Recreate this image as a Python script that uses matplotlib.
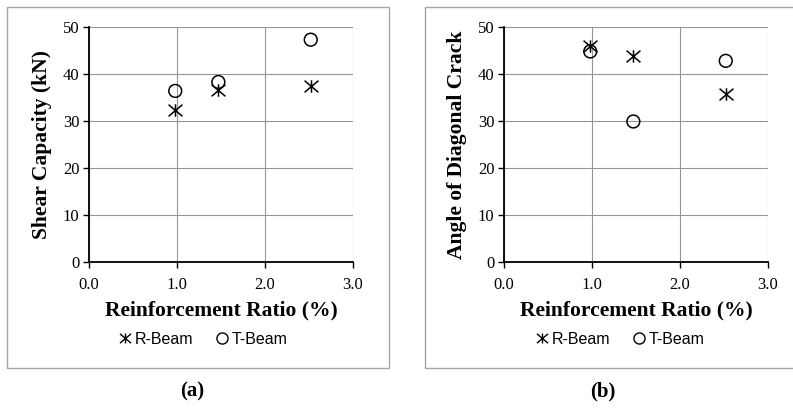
import matplotlib.pyplot as plt
from matplotlib.patches import Rectangle
from matplotlib.lines import Line2D
from matplotlib.path import Path

# reinforcement ratio (%) for the three beam pairs
ratio = [0.98, 1.47, 2.52]

# (a) shear capacity in kN
shear_r = [32.4, 36.6, 37.4]
shear_t = [36.4, 38.3, 47.3]

# (b) angle of diagonal crack
angle_r = [46.0, 43.8, 35.8]
angle_t = [44.8, 29.9, 42.8]

xticks = [0.0, 1.0, 2.0, 3.0]
yticks = [0, 10, 20, 30, 40, 50]

# excel style star: an X with a vertical stroke through it
star = Path([(0, -0.85), (0, 0.85), (-0.95, -0.8), (0.95, 0.8), (-0.95, 0.8), (0.95, -0.8)],
            [Path.MOVETO, Path.LINETO, Path.MOVETO, Path.LINETO, Path.MOVETO, Path.LINETO])

W, H = 793, 417
fig = plt.figure(figsize=(W / 100, H / 100), dpi=100)
serif = 'Liberation Serif'
sans = 'Liberation Sans'

# outer chart boxes
fig.patches.append(Rectangle((7 / W, 1 - 368 / H), 382 / W, 361 / H, transform=fig.transFigure,
                             fill=False, edgecolor='#a6a6a6', linewidth=1.0))
fig.patches.append(Rectangle((425 / W, 1 - 368 / H), 380 / W, 361 / H, transform=fig.transFigure,
                             fill=False, edgecolor='#a6a6a6', linewidth=1.0))


def panel(left, yr, yt, ylabel, cx):
    ax = fig.add_axes([left / W, 1 - 262 / H, 264 / W, 235 / H])
    ax.scatter(ratio, yr, marker=star, s=100, color='black', linewidths=1.1, zorder=3)
    ax.scatter(ratio, yt, marker='o', s=85, facecolors='none', edgecolors='black', linewidths=1.1, zorder=3)
    ax.set_xlim(0, 3)
    ax.set_ylim(0, 50)
    ax.set_xticks(xticks)
    ax.set_xticklabels(['%.1f' % t for t in xticks])
    ax.set_yticks(yticks)
    ax.grid(True, color='#969696', linewidth=0.8)
    ax.set_axisbelow(True)
    for s in ['top', 'right']:
        ax.spines[s].set_visible(False)
    for s in ['left', 'bottom']:
        ax.spines[s].set_linewidth(1.3)
    ax.tick_params(direction='out', length=4, width=1.0, labelsize=12)
    ax.tick_params(axis='x', pad=7)
    ax.tick_params(axis='y', pad=3)
    for lab in ax.get_xticklabels() + ax.get_yticklabels():
        lab.set_fontfamily(serif)
    ax.set_xlabel('Reinforcement Ratio (%)', fontsize=15.5, fontweight='bold', family=serif, labelpad=5)
    ax.set_ylabel(ylabel, fontsize=15.5, fontweight='bold', family=serif, labelpad=8)
    handles = [Line2D([], [], marker=star, color='black', linestyle='none', markersize=8, markeredgewidth=1.0),
               Line2D([], [], marker='o', markerfacecolor='none', markeredgecolor='black', linestyle='none',
                      markersize=8, markeredgewidth=1.0)]
    fig.legend(handles, ['R-Beam', 'T-Beam'], loc='center', bbox_to_anchor=(cx / W, 1 - 339 / H),
               ncol=2, frameon=False, prop={'family': sans, 'size': 11.5}, handletextpad=0.1,
               columnspacing=1.3, handlelength=1.0)
    return ax


panel(89, shear_r, shear_t, 'Shear Capacity (kN)', 202)
panel(504, angle_r, angle_t, 'Angle of Diagonal Crack', 619)

fig.text(192 / W, 1 - 391 / H, '(a)', ha='center', va='center', fontsize=15, fontweight='bold', family=serif)
fig.text(603 / W, 1 - 391 / H, '(b)', ha='center', va='center', fontsize=15, fontweight='bold', family=serif)

fig.savefig('out.png', dpi=100)
